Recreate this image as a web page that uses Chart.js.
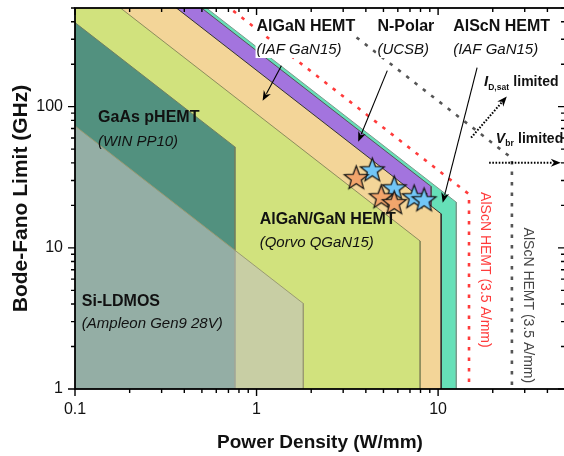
<!DOCTYPE html>
<html><head><meta charset="utf-8">
<script src="https://cdn.jsdelivr.net/npm/chart.js@4.4.1/dist/chart.umd.min.js"></script>
<style>html,body{margin:0;padding:0;background:#fff;overflow:hidden;width:564px;height:456px}#wrap{width:566px;height:456px}</style>
</head><body><div id="wrap"><canvas id="c" width="566" height="456"></canvas></div>
<script>
const FONT = "'Liberation Sans', Arial, Helvetica, sans-serif";

// Technology regions: Bode-Fano limit f = k / P (slope -1 on log-log), up to a max power density
const regionNames = ['AlScN HEMT', 'N-Polar', 'AlGaN HEMT', 'AlGaN/GaN HEMT', 'GaAs pHEMT', 'Si-LDMOS'];
const regionK     = [265, 249, 181, 89, 39.4, 7.3];
const regionPmax  = [12.6, 9.16, 10.4, 7.96, 0.76, 1.81];

// Projected limits (dashed): f = k / P from a start power density to the vertical limit
const limitNames  = ['AlScN HEMT (3.5 A/mm) red', 'AlScN HEMT (3.5 A/mm) grey'];
const limitK      = [355, 1100];
const limitPstart = [0.44, 3.2];
const limitPmax   = [14.8, 25.5];

// Measured devices (stars)
const orangeX = [3.54, 4.86, 5.73];
const orangeY = [31.4, 23.0, 20.9];
const blueX   = [4.34, 5.73, 7.38, 8.37];
const blueY   = [35.7, 26.6, 23.0, 21.9];

const xTickLabels = [0.1, 1, 10];
const yTickLabels = [1, 10, 100];
const xMin = 0.1, xMax = 50, yMin = 1, yMax = 500;

// ---- styles ----
const regionFill   = ['#66e0b8', '#a374de', '#f3d598', '#d1e27d', '#52917f', 'rgba(194,194,190,0.6)'];
const regionBorder = ['#7d9a8c', '#555555', '#333333', '#8c8c5c', '#6f7f62', '#9a9a72'];
const regionOrder  = [7, 6, 5, 4, 3, 2];
const limitColor   = ['#ff3b3b', '#555555'];

function regionData(k, p) {
  return [{x: xMin, y: k / xMin}, {x: p, y: k / p}, {x: p, y: yMin}];
}
function limitData(k, p0, p) {
  return [{x: p0, y: k / p0}, {x: p, y: k / p}, {x: p, y: yMin}];
}
function makeStar(fill, R) {
  const s = Math.ceil(R * 2 + 4);
  const c = document.createElement('canvas'); c.width = s; c.height = s;
  const g = c.getContext('2d'); const cx = s / 2, cy = s / 2 + 0.8, r = R * 0.42;
  g.beginPath();
  for (let i = 0; i < 10; i++) {
    const a = -Math.PI / 2 + i * Math.PI / 5, rr = i % 2 ? r : R;
    g.lineTo(cx + rr * Math.cos(a), cy + rr * Math.sin(a));
  }
  g.closePath(); g.fillStyle = fill; g.fill();
  g.lineWidth = 1.2; g.strokeStyle = '#111'; g.lineJoin = 'miter'; g.stroke();
  return c;
}

const datasets = [];
regionNames.forEach((n, i) => {
  datasets.push({
    label: n, data: regionData(regionK[i], regionPmax[i]),
    borderColor: regionBorder[i], borderWidth: 1, backgroundColor: regionFill[i],
    fill: 'start', pointRadius: 0, tension: 0, order: regionOrder[i]
  });
});
limitNames.forEach((n, i) => {
  datasets.push({
    label: n, data: limitData(limitK[i], limitPstart[i], limitPmax[i]),
    borderColor: limitColor[i], borderWidth: 2.6, borderDash: [3.5, 7], borderCapStyle: 'butt',
    fill: false, pointRadius: 0, tension: 0, order: 1
  });
});
datasets.push({
  label: 'blue', data: blueX.map((x, i) => ({x, y: blueY[i]})), showLine: false,
  pointStyle: makeStar('#72c6f6', 12.5), order: 0.5
});
datasets.push({
  label: 'orange', data: orangeX.map((x, i) => ({x, y: orangeY[i]})), showLine: false,
  pointStyle: makeStar('#f2a56c', 12.5), order: 0
});

// ---- annotations (anchored in data coordinates) ----
const textLabels = [
  {t: 'AlGaN HEMT', x: 1.0, y: 346, f: 'bold 16px', bg: true},
  {t: '(IAF GaN15)', x: 1.0, y: 236, f: 'italic 15px', bg: true},
  {t: 'N-Polar', x: 4.63, y: 346, f: 'bold 16px', bg: true},
  {t: '(UCSB)', x: 4.63, y: 236, f: 'italic 15px', bg: true},
  {t: 'AlScN HEMT', x: 12.1, y: 346, f: 'bold 16px', bg: true},
  {t: '(IAF GaN15)', x: 12.1, y: 236, f: 'italic 15px', bg: true},
  {t: 'GaAs pHEMT', x: 0.134, y: 78.3, f: 'bold 16px'},
  {t: '(WIN PP10)', x: 0.134, y: 52.9, f: 'italic 15px'},
  {t: 'AlGaN/GaN HEMT', x: 1.04, y: 14.8, f: 'bold 16px'},
  {t: '(Qorvo QGaN15)', x: 1.04, y: 10.2, f: 'italic 15px'},
  {t: 'Si-LDMOS', x: 0.109, y: 3.88, f: 'bold 16px'},
  {t: '(Ampleon Gen9 28V)', x: 0.109, y: 2.71, f: 'italic 15px'}
];
const richLabels = [
  {x: 17.9, y: 139, parts: [['I', 'bold italic 15px', 0], ['D,sat', 'bold 8.5px', 3.5], [' limited', 'bold 14px', 0]]},
  {x: 20.8, y: 55.6, parts: [['V', 'bold italic 14px', 0], ['br', 'bold 8.5px', 3.5], [' limited', 'bold 14px', 0]]}
];
const rotLabels = [
  {t: 'AlScN HEMT (3.5 A/mm)', x: 18.1, y: 6.98, c: '#ff3b3b'},
  {t: 'AlScN HEMT (3.5 A/mm)', x: 31.3, y: 3.91, c: '#444444'}
];
const arrows = [
  {x1: 1.37, y1: 195, x2: 1.08, y2: 110, dotted: false},
  {x1: 5.25, y1: 180, x2: 3.63, y2: 56.5, dotted: false},
  {x1: 16.4, y1: 189, x2: 10.6, y2: 20.9, dotted: false},
  {x1: 15.2, y1: 60.3, x2: 23.9, y2: 118, dotted: true},
  {x1: 19.1, y1: 40.1, x2: 47.4, y2: 40.1, dotted: true}
];

function drawArrow(ctx, x1, y1, x2, y2, dotted) {
  const a = Math.atan2(y2 - y1, x2 - x1), hl = 10, hw = 4;
  ctx.save();
  ctx.strokeStyle = '#000'; ctx.fillStyle = '#000';
  ctx.lineWidth = dotted ? 2 : 1.1;
  if (dotted) ctx.setLineDash([1.6, 1.6]);
  ctx.beginPath(); ctx.moveTo(x1, y1);
  ctx.lineTo(x2 - hl * 0.8 * Math.cos(a), y2 - hl * 0.8 * Math.sin(a)); ctx.stroke();
  ctx.setLineDash([]);
  ctx.beginPath(); ctx.moveTo(x2, y2);
  ctx.lineTo(x2 - hl * Math.cos(a) + hw * Math.sin(a), y2 - hl * Math.sin(a) - hw * Math.cos(a));
  ctx.lineTo(x2 - hl * 0.7 * Math.cos(a), y2 - hl * 0.7 * Math.sin(a));
  ctx.lineTo(x2 - hl * Math.cos(a) - hw * Math.sin(a), y2 - hl * Math.sin(a) + hw * Math.cos(a));
  ctx.closePath(); ctx.fill();
  ctx.restore();
}

const annotPlugin = {
  id: 'annot',
  afterDatasetsDraw(chart) {
    const ctx = chart.ctx, xs = chart.scales.x, ys = chart.scales.y;
    ctx.save();
    ctx.textBaseline = 'alphabetic'; ctx.textAlign = 'left';
    textLabels.forEach(l => {
      const px = xs.getPixelForValue(l.x), py = ys.getPixelForValue(l.y);
      ctx.font = l.f + ' ' + FONT;
      const w = ctx.measureText(l.t).width;
      if (l.bg) { ctx.fillStyle = '#fff'; ctx.fillRect(px - 1, py - 13, w + 2, 17); }
    });
    textLabels.forEach(l => {
      const px = xs.getPixelForValue(l.x), py = ys.getPixelForValue(l.y);
      ctx.font = l.f + ' ' + FONT; ctx.fillStyle = '#111';
      ctx.fillText(l.t, px, py);
    });
    richLabels.forEach(l => {
      let px = xs.getPixelForValue(l.x); const py = ys.getPixelForValue(l.y);
      l.parts.forEach(p => {
        ctx.font = p[1] + ' ' + FONT; ctx.fillStyle = '#111';
        ctx.fillText(p[0], px, py + p[2]);
        px += ctx.measureText(p[0]).width + (p[2] ? 0.5 : 0);
      });
    });
    rotLabels.forEach(l => {
      const px = xs.getPixelForValue(l.x), py = ys.getPixelForValue(l.y);
      ctx.save(); ctx.translate(px, py); ctx.rotate(Math.PI / 2);
      ctx.font = '14px ' + FONT; ctx.fillStyle = l.c; ctx.textAlign = 'center'; ctx.textBaseline = 'middle';
      ctx.fillText(l.t, 0, 0); ctx.restore();
    });
    arrows.forEach(a => drawArrow(ctx, xs.getPixelForValue(a.x1), ys.getPixelForValue(a.y1),
      xs.getPixelForValue(a.x2), ys.getPixelForValue(a.y2), a.dotted));
    ctx.restore();
  },
  afterDraw(chart) {
    const ctx = chart.ctx, xs = chart.scales.x, ys = chart.scales.y, ca = chart.chartArea;
    ctx.save();
    ctx.strokeStyle = '#000'; ctx.lineWidth = 1.8;
    ctx.strokeRect(ca.left, ca.top, ca.right - ca.left, ca.bottom - ca.top);
    ctx.lineWidth = 1.4;
    const decadeTicks = (lo, hi) => {
      const out = [];
      for (let d = lo; d <= hi * 1.0001; d *= 10)
        for (let m = 1; m <= 9; m++) { const v = d * m; if (v >= lo * 0.9999 && v <= hi * 1.0001) out.push([v, m === 1]); }
      return out;
    };
    decadeTicks(xMin, xMax).forEach(([v, major]) => {
      const p = xs.getPixelForValue(v), L = major ? 7 : 4;
      ctx.beginPath(); ctx.moveTo(p, ca.bottom); ctx.lineTo(p, ca.bottom + L);
      ctx.moveTo(p, ca.top); ctx.lineTo(p, ca.top + L); ctx.stroke();
    });
    decadeTicks(yMin, yMax).forEach(([v, major]) => {
      const p = ys.getPixelForValue(v), L = major ? 7 : 4;
      ctx.beginPath(); ctx.moveTo(ca.left, p); ctx.lineTo(ca.left - L, p);
      ctx.moveTo(ca.right, p); ctx.lineTo(ca.right - L, p); ctx.stroke();
    });
    ctx.restore();
  }
};

const isLabel = (v, list) => list.some(t => Math.abs(t - v) / t < 1e-6);

new Chart(document.getElementById('c'), {
  type: 'line',
  data: {datasets},
  options: {
    responsive: false, animation: false, devicePixelRatio: 1,
    layout: {autoPadding: false, padding: {left: 0, right: 1, top: 8, bottom: 0}},
    plugins: {legend: {display: false}, tooltip: {enabled: false}},
    scales: {
      x: {
        type: 'logarithmic', min: xMin, max: xMax,
        grid: {display: false, drawTicks: false}, border: {display: false},
        ticks: {autoSkip: false, maxRotation: 0, padding: 11, color: '#111',
          font: {family: FONT, size: 16},
          callback: v => isLabel(v, xTickLabels) ? String(v) : ''},
        title: {display: true, text: 'Power Density (W/mm)', color: '#111',
          font: {family: FONT, size: 19, weight: 'bold'}, padding: {top: 0, bottom: 2}},
        afterFit: s => { s.height = 67; s.paddingLeft = 0; s.paddingRight = 0; s.paddingTop = 0; s.paddingBottom = 0; }
      },
      y: {
        type: 'logarithmic', min: yMin, max: yMax,
        grid: {display: false, drawTicks: false}, border: {display: false},
        ticks: {autoSkip: false, padding: 12, color: '#111',
          font: {family: FONT, size: 16},
          callback: v => isLabel(v, yTickLabels) ? String(v) : ''},
        title: {display: true, text: 'Bode-Fano Limit (GHz)', color: '#111',
          font: {family: FONT, size: 21, weight: 'bold'}, padding: {top: 9, bottom: 0}},
        afterFit: s => { s.width = 75; s.paddingLeft = 0; s.paddingRight = 0; s.paddingTop = 0; s.paddingBottom = 0; }
      }
    }
  },
  plugins: [annotPlugin]
});
</script>
</body></html>
